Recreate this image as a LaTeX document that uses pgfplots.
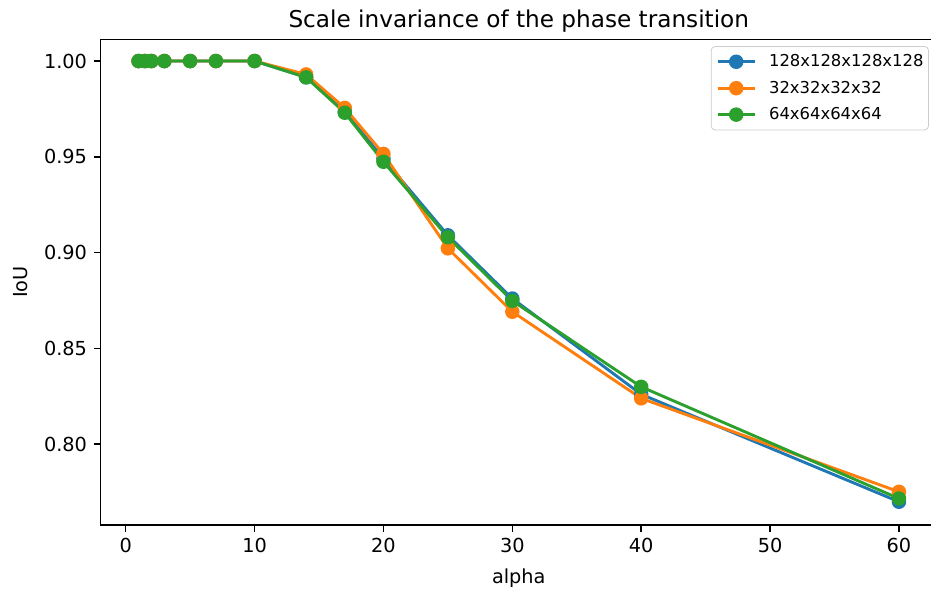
\documentclass[border=0pt]{standalone}
\usepackage{pgfplots}
\pgfplotsset{compat=1.18}
\usepackage{fontspec}
\setmainfont{DejaVu Sans}
\definecolor{c0}{HTML}{1F77B4}
\definecolor{c1}{HTML}{FF7F0E}
\definecolor{c2}{HTML}{2CA02C}
\begin{document}
\begin{tikzpicture}
\begin{axis}[
  name=ax,
  scale only axis,
  width=433.4pt, height=251.4pt,
  xmin=-1.95, xmax=62.95,
  ymin=0.7579, ymax=1.0112,
  xtick={0,10,20,30,40,50,60},
  ytick={0.80,0.85,0.90,0.95,1.00},
  yticklabel style={/pgf/number format/.cd, fixed, fixed zerofill, precision=2},
  /pgf/number format/assume math mode=true,
  tick align=outside,
  major tick length=3.5pt,
  xtick pos=bottom, ytick pos=left,
  tick style={line width=0.8pt, black},
  axis line style={line width=0.8pt, black},
  ticklabel style={font=\fontsize{10}{12}\selectfont},
  title={Scale invariance of the phase transition},
  title style={at={(0.5,1)}, anchor=base, yshift=0.3pt, font=\fontsize{12}{14}\selectfont},
  xlabel={alpha},
  xlabel style={at={(0.5,0)}, anchor=base, yshift=-30.2pt, font=\fontsize{10}{12}\selectfont},
  ylabel={IoU},
  ylabel style={at={(0,0.5)}, anchor=base, yshift=37.6pt, font=\fontsize{10}{12}\selectfont},
  legend cell align=left,
  legend image code/.code={\draw[line width=1.5pt, mark repeat=2, mark phase=2] plot coordinates {(0pt,0pt) (9.6pt,0pt) (19.2pt,0pt)};},
  legend style={at={(1,1)}, anchor=north east, xshift=-4.2pt, yshift=-3.4pt,
    draw=black!20, rounded corners=2pt, fill=white,
    font=\fontsize{8.5}{10}\selectfont,
    inner xsep=2.6pt, inner ysep=3.9pt, row sep=5.7pt,
    nodes={inner sep=0pt, text height=6.5pt, text depth=1.5pt},
    /tikz/every odd column/.append style={column sep=6.7pt}},
  every axis plot/.append style={line width=1.5pt, mark=*, mark size=3pt, mark options={solid}},
]
\addplot[color=c0, mark options={fill=c0, draw=c0}] coordinates {
(1,1.0) (1.5,1.0) (2,1.0) (3,1.0) (5,1.0) (7,1.0) (10,1.0)
(14,0.9915) (17,0.9735) (20,0.9490) (25,0.9090) (30,0.8760) (40,0.8260) (60,0.7699)};
\addlegendentry{128x128x128x128}
\addplot[color=c1, mark options={fill=c1, draw=c1}] coordinates {
(1,1.0) (1.5,1.0) (2,1.0) (3,1.0) (5,1.0) (7,1.0) (10,1.0)
(14,0.9930) (17,0.9755) (20,0.9515) (25,0.9022) (30,0.8691) (40,0.8239) (60,0.7751)};
\addlegendentry{32x32x32x32}
\addplot[color=c2, mark options={fill=c2, draw=c2}] coordinates {
(1,1.0) (1.5,1.0) (2,1.0) (3,1.0) (5,1.0) (7,1.0) (10,1.0)
(14,0.9915) (17,0.9730) (20,0.9474) (25,0.9080) (30,0.8748) (40,0.8299) (60,0.7716)};
\addlegendentry{64x64x64x64}
\end{axis}
\pgfresetboundingbox
\useasboundingbox (ax.south west) ++(-52.1pt,-34.4pt) rectangle ++(482.4pt,306.3pt);
\end{tikzpicture}
\end{document}
